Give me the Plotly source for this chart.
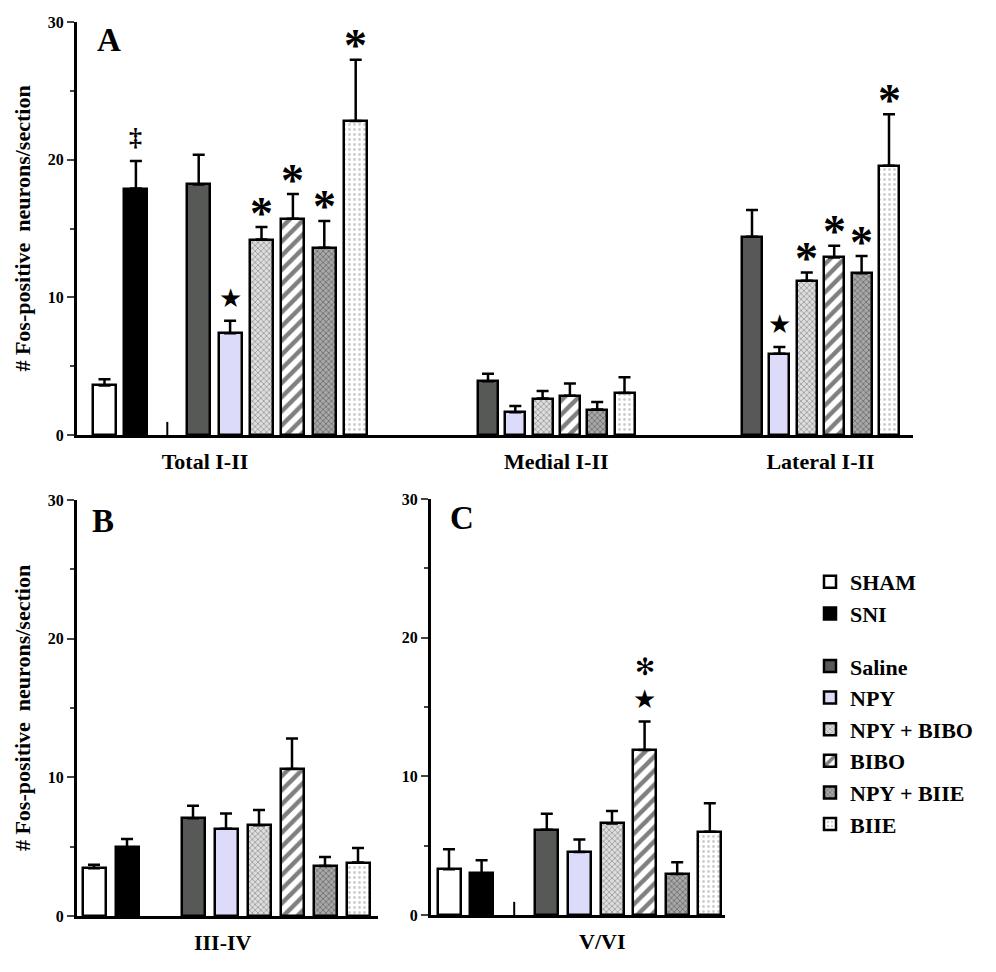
import plotly.graph_objects as go

# ---------------- data ----------------
treatments = ["SHAM", "SNI", "Saline", "NPY", "NPY + BIBO", "BIBO", "NPY + BIIE", "BIIE"]
drug_groups = treatments[2:]

total_mean = [3.6, 17.9, 18.2, 7.4, 14.2, 15.7, 13.6, 22.8]
total_sem = [0.45, 2.0, 2.15, 0.9, 0.9, 1.8, 1.95, 4.45]

medial_mean = [3.9, 1.65, 2.65, 2.85, 1.85, 3.05]
medial_sem = [0.55, 0.45, 0.55, 0.9, 0.55, 1.15]

lateral_mean = [14.4, 5.9, 11.2, 12.9, 11.75, 19.55]
lateral_sem = [1.95, 0.5, 0.6, 0.85, 1.25, 3.75]

lam34_mean = [3.45, 4.95, 7.05, 6.3, 6.55, 10.6, 3.6, 3.85]
lam34_sem = [0.25, 0.6, 0.9, 1.1, 1.1, 2.2, 0.65, 1.05]

lam56_mean = [3.3, 3.0, 6.15, 4.55, 6.6, 11.9, 2.95, 6.0]
lam56_sem = [1.45, 0.95, 1.15, 0.9, 0.9, 2.05, 0.85, 2.05]

category_labels = ["Total I-II", "Medial I-II", "Lateral I-II", "III-IV", "V/VI"]
panel_labels = ["A", "B", "C"]
y_tick_values = [0, 10, 20, 30]
y_title = "# Fos-positive  neurons/section"

total_marks = [[], ["‡"], [], ["★"], ["*"], ["*"], ["*"], ["*"]]
lateral_marks = [[], ["★"], ["*"], ["*"], ["*"], ["*"]]
lam56_marks = [[], [], [], [], [], ["★", "*"], [], []]

# ---------------- styles ----------------
SERIF = "Liberation Serif"
OUT = "black"
styles = {
    "SHAM": dict(color="white"),
    "SNI": dict(color="black"),
    "Saline": dict(color="#575957"),
    "NPY": dict(color="#dcdcfa"),
    "NPY + BIBO": dict(color="#d0d0d0", pattern=dict(shape="x", fgcolor="#5e5e5e", bgcolor="#dedede", size=4, solidity=0.4)),
    "BIBO": dict(color="white", pattern=dict(shape="/", fgcolor="black", bgcolor="white", size=10, solidity=0.45)),
    "NPY + BIIE": dict(color="#8a8a8a", pattern=dict(shape="x", fgcolor="#3a3a3a", bgcolor="#a8a8a8", size=4, solidity=0.4)),
    "BIIE": dict(color="white", pattern=dict(shape=".", fgcolor="#9a9a9a", bgcolor="white", size=5, solidity=0.25)),
}

W, H = 996, 972
PAGE = 8  # default page margin of the HTML body, compensated below

def xdom(a, b):
    return [(a - PAGE) / W, (b - PAGE) / W]

def ydom(bottom, top):
    return [1 - (bottom - PAGE) / H, 1 - (top - PAGE) / H]

# layout of bar slots (in axis "layout units" = pixels of each axis)
slots8 = [0, 1, 3, 4, 5, 6, 7, 8]
A_total = dict(first=27.5, step=31.4, width=23)
A_medial = dict(first=411.0, step=27.3, width=20)
A_lateral = dict(first=675.0, step=27.4, width=20)
B_lay = dict(first=17.0, step=33.0, width=23)
C_lay = dict(first=18.0, step=32.6, width=23)

def pos(lay, s):
    return lay["first"] + lay["step"] * s

fig = go.Figure()

def err(arr):
    return dict(type="data", array=arr, arrayminus=[0] * len(arr), symmetric=False,
                thickness=2.5, width=6, color="black")

def marker_for(name):
    st = dict(styles[name])
    st["line"] = dict(color=OUT, width=2.5)
    return st

# Panel A
for k, name in enumerate(treatments):
    xs = [pos(A_total, slots8[k])]
    ys = [total_mean[k]]
    es = [total_sem[k]]
    ws = [A_total["width"]]
    if k >= 2:
        j = k - 2
        xs += [pos(A_medial, j), pos(A_lateral, j)]
        ys += [medial_mean[j], lateral_mean[j]]
        es += [medial_sem[j], lateral_sem[j]]
        ws += [A_medial["width"], A_lateral["width"]]
    fig.add_trace(go.Bar(x=xs, y=ys, width=ws, name=name, marker=marker_for(name),
                         error_y=err(es), xaxis="x", yaxis="y",
                         legendgroup="g1" if k < 2 else "g2", showlegend=True))

# Panels B and C
for means, sems, lay, ax in [(lam34_mean, lam34_sem, B_lay, "2"), (lam56_mean, lam56_sem, C_lay, "3")]:
    for k, name in enumerate(treatments):
        fig.add_trace(go.Bar(x=[pos(lay, slots8[k])], y=[means[k]], width=[lay["width"]], name=name,
                             marker=marker_for(name), error_y=err([sems[k]]),
                             xaxis="x" + ax, yaxis="y" + ax,
                             legendgroup="g1" if k < 2 else "g2", showlegend=False))

# significance marks
annotations = []
AST = dict(family=SERIF, size=46, color="black", weight="bold")
AST_STACK = dict(family="DejaVu Sans", size=24, color="black")
STAR = dict(family="DejaVu Sans", size=26, color="black")
DAG = dict(family=SERIF, size=26, color="black", weight="bold")

def add_marks(marks, xs, tops, xref, yref):
    for m, x, t in zip(marks, xs, tops):
        for i, sym in enumerate(m):
            if sym == "*" and len(m) == 1:
                text, fnt, shift = "*", AST, 14
            elif sym == "*":
                text, fnt, shift = "✻", AST_STACK, 23 + 32 * i
            elif sym == "★":
                text, fnt, shift = "★", STAR, 23 + 32 * i
            else:
                text, fnt, shift = sym, DAG, 24 + 32 * i
            annotations.append(dict(x=x, y=t, xref=xref, yref=yref, text=text, showarrow=False,
                                    yanchor="middle", xanchor="center", yshift=shift, font=fnt))

add_marks(total_marks, [pos(A_total, s) for s in slots8],
          [m + e for m, e in zip(total_mean, total_sem)], "x", "y")
add_marks(lateral_marks, [pos(A_lateral, j) for j in range(6)],
          [m + e for m, e in zip(lateral_mean, lateral_sem)], "x", "y")
add_marks(lam56_marks, [pos(C_lay, s) for s in slots8],
          [m + e for m, e in zip(lam56_mean, lam56_sem)], "x3", "y3")

# panel letters
for letter, px, py in zip(panel_labels, [95, 90, 448], [40, 521, 518]):
    annotations.append(dict(x=(px - PAGE) / W, y=1 - (py - PAGE) / H, xref="paper", yref="paper",
                            text=letter, showarrow=False, xanchor="left", yanchor="middle",
                            font=dict(family=SERIF, size=33, color="black", weight="bold")))

# axis-break ticks
shapes = []
for xr, yr, lay in [("x", "y", A_total), ("x3", "y3", C_lay)]:
    xb = pos(lay, 2)
    shapes.append(dict(type="line", xref=xr, yref=yr, x0=xb, x1=xb, y0=0, y1=0.95,
                       line=dict(color="black", width=2)))

yaxis_common = dict(range=[0, 30], tickvals=y_tick_values, ticks="outside", ticklen=7, tickwidth=2,
                    showline=True, linewidth=3, linecolor="black", showgrid=False, zeroline=False,
                    minor=dict(ticks="outside", ticklen=4, tickwidth=2, dtick=5, showgrid=False),
                    tickfont=dict(family=SERIF, size=16, color="black", weight="bold"),
                    fixedrange=True, automargin=False)
xaxis_common = dict(showline=True, linewidth=3, linecolor="black", showgrid=False, zeroline=False,
                    ticks="", ticklabelstandoff=5, automargin=False,
                    tickfont=dict(family=SERIF, size=22, color="black", weight="bold"))
ytitle_font = dict(family=SERIF, size=22, color="black", weight="bold")

A_w, B_w, C_w = 913 - 77, 378 - 77, 725 - 431

fig.update_layout(
    width=W, height=H, margin=dict(l=0, r=0, t=0, b=0, autoexpand=False),
    paper_bgcolor="white", plot_bgcolor="white", barmode="overlay", bargap=0,
    xaxis=dict(domain=xdom(77, 913), range=[0, A_w], anchor="y",
               tickvals=[pos(A_total, 3.2), pos(A_medial, 2.5), pos(A_lateral, 2.5)],
               ticktext=category_labels[:3], **xaxis_common),
    yaxis=dict(domain=ydom(435, 22), anchor="x",
               title=dict(text=y_title, standoff=12, font=ytitle_font), **yaxis_common),
    xaxis2=dict(domain=xdom(77, 378), range=[0, B_w], anchor="y2",
                tickvals=[pos(B_lay, 3.9)], ticktext=[category_labels[3]], **xaxis_common),
    yaxis2=dict(domain=ydom(916, 500), anchor="x2",
                title=dict(text=y_title, standoff=12, font=ytitle_font), **yaxis_common),
    xaxis3=dict(domain=xdom(431, 725), range=[0, C_w], anchor="y3",
                tickvals=[pos(C_lay, 4.7)], ticktext=[category_labels[4]], **xaxis_common),
    yaxis3=dict(domain=ydom(915, 499), anchor="x3", **yaxis_common),
    legend=dict(x=802 / W, y=1 - 553 / H, xanchor="left", yanchor="top", traceorder="grouped",
                tracegroupgap=21, bgcolor="rgba(0,0,0,0)",
                font=dict(family=SERIF, size=22, color="black", weight="bold")),
    annotations=annotations, shapes=shapes, showlegend=True,
)

fig.write_html("out.html")
